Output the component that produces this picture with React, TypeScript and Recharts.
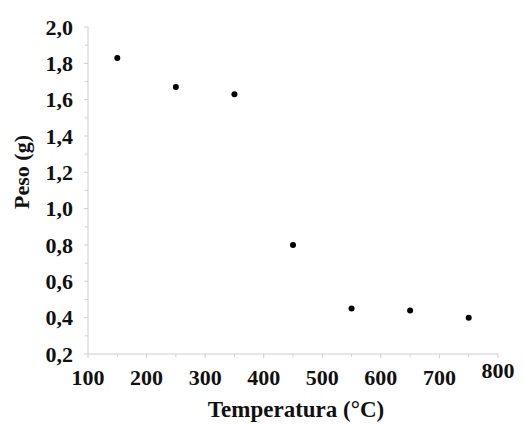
import { ScatterChart, Scatter, XAxis, YAxis, Label } from "recharts";

// Data
const temperatures = [150, 250, 350, 450, 550, 650, 750];
const weights = [1.83, 1.67, 1.63, 0.8, 0.45, 0.44, 0.4];

const xMajor = [100, 200, 300, 400, 500, 600, 700, 800];
const xMinor = [150, 250, 350, 450, 550, 650, 750];
const yMajor = [0.2, 0.4, 0.6, 0.8, 1.0, 1.2, 1.4, 1.6, 1.8, 2.0];
const yMinor = [0.3, 0.5, 0.7, 0.9, 1.1, 1.3, 1.5, 1.7, 1.9];

const data = temperatures.map((t, i) => ({ x: t, y: weights[i] }));

const font = '"Liberation Serif", "DejaVu Serif", serif';
const axisColor = "#cfcfcf";
const textStyle = { fontFamily: font, fontWeight: 700 };

const XTick = (props: any) => {
  const { x, y, payload } = props;
  const v = payload.value;
  const major = xMajor.includes(v);
  return (
    <g>
      <line x1={x} x2={x} y1={y} y2={y + (major ? 4 : 3)} stroke={axisColor} />
      {major && (
        <text
          x={x}
          y={y + 31 - (v === 800 ? 7 : 0)}
          textAnchor="middle"
          style={{ ...textStyle, fontSize: 22 }}
          fill="#111"
        >
          {v}
        </text>
      )}
    </g>
  );
};

const YTick = (props: any) => {
  const { x, y, payload } = props;
  const v = payload.value;
  const major = yMajor.some((m) => Math.abs(m - v) < 1e-6);
  return (
    <g>
      <line x1={x - (major ? 4 : 3)} x2={x} y1={y} y2={y} stroke={axisColor} />
      {major && (
        <text
          x={x - 15}
          y={y}
          dy="0.35em"
          textAnchor="end"
          style={{ ...textStyle, fontSize: 22 }}
          fill="#111"
        >
          {v.toFixed(1).replace(".", ",")}
        </text>
      )}
    </g>
  );
};

const YTitle = () => (
  <text
    x={29}
    y={172}
    transform="rotate(-90 29 172)"
    textAnchor="middle"
    style={{ ...textStyle, fontSize: 22 }}
    fill="#111"
  >
    Peso (g)
  </text>
);

const XTitle = () => (
  <text
    x={296}
    y={417}
    textAnchor="middle"
    style={{ ...textStyle, fontSize: 23 }}
    fill="#111"
  >
    Temperatura (°C)
  </text>
);

const Dot = (props: any) => <circle cx={props.cx} cy={props.cy} r={3} fill="#000" />;

export default function App() {
  return (
    <div style={{ position: "absolute", left: 0, top: 0, background: "#fff" }}>
      <ScatterChart
        width={524}
        height={424}
        margin={{ top: 27, right: 26, bottom: 0, left: 0 }}
      >
        <XAxis
          type="number"
          dataKey="x"
          domain={[100, 800]}
          ticks={[...xMajor, ...xMinor].sort((a, b) => a - b)}
          tick={<XTick />}
          tickLine={false}
          tickSize={0}
          tickMargin={0}
          height={70}
          stroke={axisColor}
          interval={0}
        >
          <Label content={<XTitle />} />
        </XAxis>
        <YAxis
          type="number"
          dataKey="y"
          domain={[0.2, 2.0]}
          ticks={[...yMajor, ...yMinor].sort((a, b) => a - b)}
          tick={<YTick />}
          tickLine={false}
          tickSize={0}
          tickMargin={0}
          width={88}
          stroke={axisColor}
          interval={0}
        >
          <Label content={<YTitle />} />
        </YAxis>
        <Scatter data={data} shape={<Dot />} isAnimationActive={false} />
      </ScatterChart>
    </div>
  );
}
